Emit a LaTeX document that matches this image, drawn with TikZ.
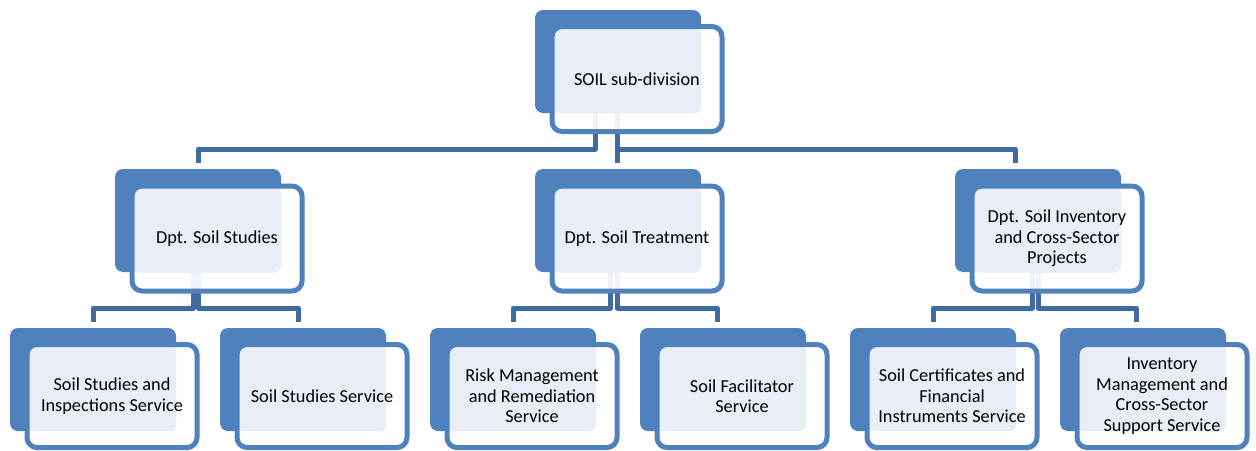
\documentclass[tikz,border=0pt]{standalone}
\usepackage{fontspec}
\setmainfont{Carlito}
\usetikzlibrary{calc,backgrounds}
\definecolor{boxblue}{HTML}{4F81BD}
\definecolor{linkblue}{HTML}{3F6BA3}
\definecolor{paleblue}{HTML}{E9EEF6}
\tikzset{
  back/.style={fill=boxblue, rounded corners=8pt, minimum width=166pt, minimum height=103pt, inner sep=0pt, outer sep=0pt},
  front/.style={draw=boxblue, line width=5pt, fill=white, fill opacity=0.92, text opacity=1,
    rounded corners=10pt, minimum width=170pt, minimum height=105pt, inner sep=0pt, outer sep=0pt,
    align=center, font=\fontsize{18.3}{20.5}\selectfont,
    path picture={\fill[paleblue, fill opacity=1, rounded corners=6pt]
      ($(path picture bounding box.north west)+(1,1)$) rectangle ($(path picture bounding box.north west)+(149,86.5)$);}},
  low/.style={minimum height=103pt},
  link/.style={draw=linkblue, line width=5pt, line join=round}
}
\begin{document}
\begin{tikzpicture}[x=1pt,y=-1pt]
  \useasboundingbox (0,0) rectangle (1256,450);
  % top
  \node[back] (soil-b) at (618,61.5) {};
  \node[front] (soil) at (637,79) {SOIL sub-division};
  % departments
  \node[back] (studies-b) at (198,220.5) {};
  \node[front] (studies) at (217,238.5) {Dpt. Soil Studies};
  \node[back] (treat-b) at (618,220.5) {};
  \node[front] (treat) at (637,238.5) {Dpt. Soil Treatment};
  \node[back] (inv-b) at (1038,220.5) {};
  \node[front] (inv) at (1057,238.5) {Dpt. Soil Inventory\\and Cross-Sector\\Projects};
  % services
  \node[back] (ssi-b) at (93,379.5) {};
  \node[front,low] (ssi) at (112,396) {Soil Studies and\\Inspections Service};
  \node[back] (sss-b) at (303,379.5) {};
  \node[front,low] (sss) at (322,396) {Soil Studies Service};
  \node[back] (rmr-b) at (513,379.5) {};
  \node[front,low] (rmr) at (532,396) {Risk Management\\and Remediation\\Service};
  \node[back] (sf-b) at (723,379.5) {};
  \node[front,low] (sf) at (742,396) {Soil Facilitator\\Service};
  \node[back] (scf-b) at (933,379.5) {};
  \node[front,low] (scf) at (952,396) {Soil Certificates and\\Financial\\Instruments Service};
  \node[back] (imc-b) at (1143,379.5) {};
  \node[front,low] (imc) at (1162,396) {Inventory\\Management and\\Cross-Sector\\Support Service};
  \begin{pgfonlayer}{background}
  \foreach \from/\to/\a/\b in {soil/studies/-23/0, soil/treat/-0.5/-0.5, soil/inv/-0.5/-22.5,
      studies/ssi/-5/0.5, studies/sss/0.5/-5, treat/rmr/-7.5/0.5, treat/sf/-0.5/-5.5,
      inv/scf/-6/0.5, inv/imc/0/-7}
    \draw[link] ($(\from-b.south)+(\a,0)$) -- ++(0,36) -| ($(\to-b.north)+(\b,-6)$);
  \end{pgfonlayer}
\end{tikzpicture}
\end{document}
